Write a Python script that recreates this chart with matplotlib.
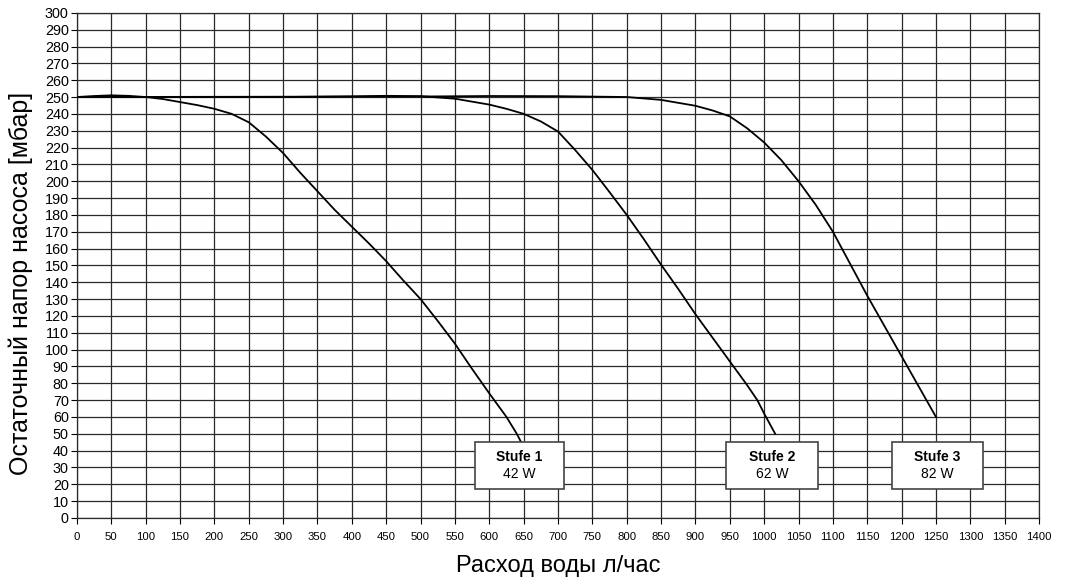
import matplotlib.pyplot as plt
import numpy as np

plt.rcParams['font.family'] = ['Liberation Sans', 'DejaVu Sans']

# Stufe 1 (42 W)
s1_x = [0, 25, 50, 75, 100, 125, 150, 175, 200, 225, 250, 275, 300, 325, 350, 375, 400, 425,
        450, 475, 500, 525, 550, 575, 600, 625, 640, 646]
s1_y = [250, 250.6, 251, 250.7, 250, 248.8, 247, 245.2, 243, 240, 235, 226.5, 216.7, 205, 194,
        183, 173, 163, 152.5, 141, 130, 117, 103.5, 88.5, 74, 60, 50, 45.3]

# Stufe 2 (62 W)
s2_x = [0, 100, 200, 300, 400, 450, 500, 550, 600, 625, 650, 675, 700, 725, 750, 775, 800,
        825, 850, 875, 900, 925, 950, 975, 990, 1000, 1016]
s2_y = [250, 250, 250, 250, 250.4, 250.7, 250.5, 249, 245.5, 243, 240, 235.5, 229.5, 218.5,
        206.7, 193.5, 180, 165.5, 150.4, 136, 121, 107, 93, 79, 70, 62, 50]

# Stufe 3 (82 W)
s3_x = [0, 500, 600, 700, 800, 850, 900, 925, 950, 975, 1000, 1025, 1050, 1075, 1100, 1125,
        1150, 1175, 1200, 1225, 1250]
s3_y = [250, 250.3, 250.6, 250.5, 250, 248.3, 244.8, 242, 238.5, 231.5, 223, 212.5, 200, 186,
        170, 151, 132, 114, 96, 78, 60]

labels = [('Stufe 1', '42 W'), ('Stufe 2', '62 W'), ('Stufe 3', '82 W')]
box_x = [(579, 708), (945, 1078), (1186, 1318)]
box_y = (17.2, 45.3)

fig = plt.figure(figsize=(10.69, 5.83), dpi=100)
ax = fig.add_axes([0.072, 0.1115, 0.9, 0.8665])

for x, y in [(s1_x, s1_y), (s2_x, s2_y), (s3_x, s3_y)]:
    ax.plot(x, y, color='black', lw=1.3, zorder=3)

for (x0, x1), (t1, t2) in zip(box_x, labels):
    ax.add_patch(plt.Rectangle((x0, box_y[0]), x1 - x0, box_y[1] - box_y[0],
                               facecolor='white', edgecolor='#444444', lw=1.2, zorder=4))
    xc = (x0 + x1) / 2
    ax.text(xc, 36.5, t1, ha='center', va='center', fontsize=10, fontweight='bold', zorder=5)
    ax.text(xc, 26, t2, ha='center', va='center', fontsize=10, zorder=5)

ax.set_xlim(0, 1400)
ax.set_ylim(0, 300)
ax.set_xticks(np.arange(0, 1401, 50))
ax.set_yticks(np.arange(0, 301, 10))
ax.tick_params(axis='x', labelsize=8.2, length=4, pad=6)
ax.tick_params(axis='y', labelsize=10.4, length=4, pad=2)
ax.grid(True, color='#2a2a2a', lw=0.9)
ax.set_axisbelow(True)
for s in ax.spines.values():
    s.set_color('#2a2a2a')
    s.set_linewidth(0.9)

ax.set_xlabel('Расход воды л/час', fontsize=17)
ax.set_ylabel('Остаточный напор насоса [мбар]', fontsize=18)
ax.xaxis.set_label_coords(0.5, -0.074)
ax.yaxis.set_label_coords(-0.046, 0.465)

fig.savefig('out.png', dpi=100)
